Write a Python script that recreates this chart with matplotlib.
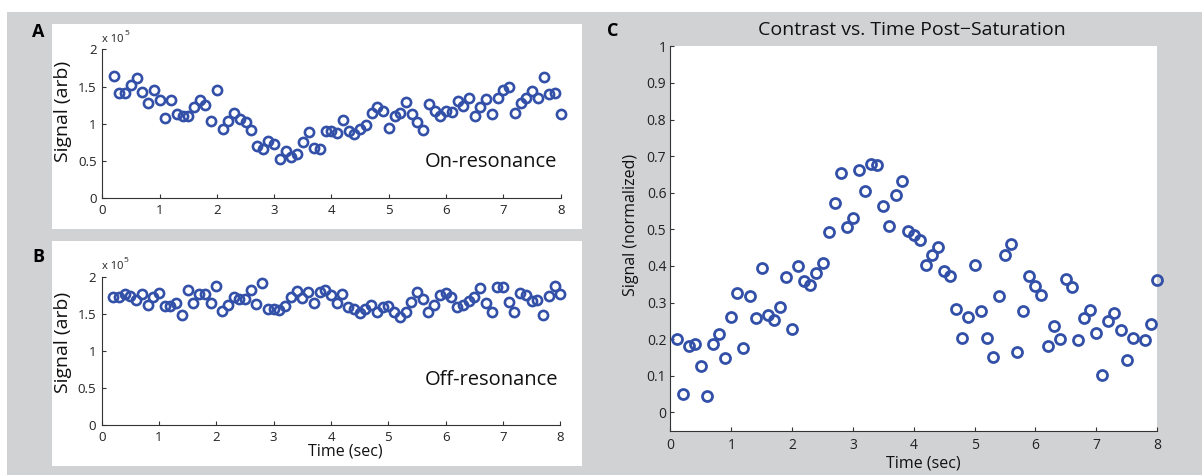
import numpy as np
import matplotlib
matplotlib.use('Agg')
import matplotlib.pyplot as plt
from matplotlib.patches import Rectangle

plt.rcParams['font.family'] = ['Open Sans', 'DejaVu Sans']

# sample times (sec)
t_ab = [0.2, 0.3, 0.4, 0.5, 0.6, 0.7, 0.8, 0.9, 1.0, 1.1, 1.2, 1.3, 1.4, 1.5, 1.6, 1.7, 1.8, 1.9, 2.0,
        2.1, 2.2, 2.3, 2.4, 2.5, 2.6, 2.7, 2.8, 2.9, 3.0, 3.1, 3.2, 3.3, 3.4, 3.5, 3.6, 3.7, 3.8, 3.9, 4.0,
        4.1, 4.2, 4.3, 4.4, 4.5, 4.6, 4.7, 4.8, 4.9, 5.0, 5.1, 5.2, 5.3, 5.4, 5.5, 5.6, 5.7, 5.8, 5.9, 6.0,
        6.1, 6.2, 6.3, 6.4, 6.5, 6.6, 6.7, 6.8, 6.9, 7.0, 7.1, 7.2, 7.3, 7.4, 7.5, 7.6, 7.7, 7.8, 7.9, 8.0]

# raw signal, units of 1e5
on_res = [1.64, 1.41, 1.42, 1.52, 1.61, 1.43, 1.28, 1.46, 1.32, 1.08, 1.32, 1.13, 1.11, 1.10, 1.22, 1.32, 1.25, 1.04, 1.45,
          0.93, 1.04, 1.14, 1.07, 1.02, 0.92, 0.70, 0.66, 0.77, 0.73, 0.53, 0.64, 0.55, 0.59, 0.75, 0.89, 0.67, 0.66, 0.91, 0.90,
          0.87, 1.05, 0.90, 0.86, 0.93, 0.98, 1.15, 1.22, 1.17, 0.95, 1.10, 1.15, 1.29, 1.13, 1.02, 0.92, 1.27, 1.17, 1.10, 1.17,
          1.16, 1.31, 1.24, 1.35, 1.10, 1.22, 1.33, 1.13, 1.34, 1.46, 1.49, 1.14, 1.28, 1.35, 1.44, 1.34, 1.63, 1.40, 1.41, 1.13]

off_res = [1.73, 1.73, 1.76, 1.74, 1.68, 1.76, 1.62, 1.72, 1.78, 1.60, 1.60, 1.65, 1.49, 1.82, 1.65, 1.77, 1.77, 1.64, 1.87,
           1.54, 1.62, 1.73, 1.70, 1.70, 1.82, 1.63, 1.92, 1.56, 1.56, 1.55, 1.60, 1.73, 1.81, 1.71, 1.80, 1.65, 1.79, 1.82, 1.75,
           1.64, 1.76, 1.59, 1.56, 1.51, 1.56, 1.62, 1.52, 1.59, 1.60, 1.52, 1.45, 1.52, 1.66, 1.79, 1.70, 1.52, 1.62, 1.75, 1.78,
           1.72, 1.59, 1.62, 1.67, 1.72, 1.85, 1.65, 1.52, 1.86, 1.86, 1.66, 1.52, 1.78, 1.75, 1.67, 1.68, 1.48, 1.74, 1.87, 1.76]

# contrast, normalized (no sample at 7.7 s)
t_c = [0.1, 0.2, 0.3, 0.4, 0.5, 0.6, 0.7, 0.8, 0.9, 1.0, 1.1, 1.2, 1.3, 1.4, 1.5, 1.6, 1.7, 1.8, 1.9, 2.0,
       2.1, 2.2, 2.3, 2.4, 2.5, 2.6, 2.7, 2.8, 2.9, 3.0, 3.1, 3.2, 3.3, 3.4, 3.5, 3.6, 3.7, 3.8, 3.9, 4.0,
       4.1, 4.2, 4.3, 4.4, 4.5, 4.6, 4.7, 4.8, 4.9, 5.0, 5.1, 5.2, 5.3, 5.4, 5.5, 5.6, 5.7, 5.8, 5.9, 6.0,
       6.1, 6.2, 6.3, 6.4, 6.5, 6.6, 6.7, 6.8, 6.9, 7.0, 7.1, 7.2, 7.3, 7.4, 7.5, 7.6, 7.8, 7.9, 8.0]
contrast = [0.200, 0.049, 0.181, 0.188, 0.126, 0.046, 0.186, 0.213, 0.149, 0.261, 0.326, 0.176, 0.318, 0.259, 0.394,
            0.265, 0.252, 0.289, 0.369, 0.227, 0.399, 0.359, 0.349, 0.380, 0.408, 0.493, 0.571, 0.654, 0.507, 0.532,
            0.661, 0.604, 0.679, 0.677, 0.565, 0.510, 0.594, 0.632, 0.496, 0.484, 0.470, 0.403, 0.429, 0.452, 0.386,
            0.373, 0.282, 0.203, 0.260, 0.402, 0.276, 0.202, 0.151, 0.319, 0.431, 0.461, 0.164, 0.276, 0.372, 0.344,
            0.320, 0.180, 0.235, 0.201, 0.365, 0.343, 0.198, 0.257, 0.279, 0.216, 0.102, 0.249, 0.271, 0.225, 0.143,
            0.202, 0.198, 0.242, 0.362]

W, H = 1202, 475
blue = '#3350a8'
gray = '#d1d2d4'
axcol = '#333333'

fig = plt.figure(figsize=(W / 100, H / 100), dpi=100)
fig.patch.set_facecolor('white')


def px(x, y):
    # pixel position -> figure fraction
    return x / W, 1 - y / H


def box(x0, y0, x1, y1, color):
    fx, fy = px(x0, y1)
    fig.patches.append(Rectangle((fx, fy), (x1 - x0) / W, (y1 - y0) / H, transform=fig.transFigure,
                                 facecolor=color, edgecolor='none', zorder=-10))


def make_axes(x0, y0, x1, y1):
    fx, fy = px(x0, y1)
    ax = fig.add_axes([fx, fy, (x1 - x0) / W, (y1 - y0) / H])
    ax.set_facecolor('white')
    for s in ['top', 'right']:
        ax.spines[s].set_visible(False)
    for s in ['left', 'bottom']:
        ax.spines[s].set_color(axcol)
        ax.spines[s].set_linewidth(0.8)
    ax.tick_params(direction='in', length=3, width=0.8, color=axcol, labelcolor='#222222')
    return ax


# background panels
box(7, 12, W, H, gray)
box(52, 24, 582, 229, 'white')
box(52, 241, 582, 466, 'white')

# A / B: on- and off-resonance
axA = make_axes(102.3, 49.3, 560.7, 198.3)
axA.plot(t_ab, on_res, 'o', mfc='none', mec=blue, ms=6.6, mew=1.9, clip_on=False)
axB = make_axes(101.7, 276.7, 560.3, 425.0)
axB.plot(t_ab, off_res, 'o', mfc='none', mec=blue, ms=6.6, mew=1.9, clip_on=False)

for ax, txt in [(axA, 'On-resonance'), (axB, 'Off-resonance')]:
    ax.set_xlim(0, 8)
    ax.set_ylim(0, 2)
    ax.set_xticks(range(9))
    ax.set_yticks([0, 0.5, 1, 1.5, 2])
    ax.set_yticklabels(['0', '0.5', '1', '1.5', '2'])
    ax.tick_params(labelsize=9.5, pad=4)
    ax.tick_params(axis='x', pad=4)
    ax.text(5.63, 0.42 if ax is axA else 0.54, txt, fontsize=14.5, ha='left', va='baseline', color='#111111')
    ax.annotate('x 10', xy=(0, 1), xycoords='axes fraction', xytext=(0, 7), textcoords='offset points',
                fontsize=8, ha='left', va='center', color='#222222')
    ax.annotate('5', xy=(0, 1), xycoords='axes fraction', xytext=(16, 11.5), textcoords='offset points',
                fontsize=6, ha='left', va='center', color='#222222')

# C: contrast
axC = make_axes(670.5, 46.3, 1157.0, 430.7)
axC.plot(t_c, contrast, 'o', mfc='none', mec=blue, ms=7.2, mew=2.0, clip_on=False)
axC.set_xlim(0, 8)
axC.set_ylim(-0.05, 1)
axC.set_xticks(range(9))
yt = np.round(np.arange(0, 1.01, 0.1), 1)
axC.set_yticks(yt)
axC.set_yticklabels(['0'] + ['%.1f' % v for v in yt[1:-1]] + ['1'])
axC.tick_params(labelsize=10)
axC.tick_params(axis='y', pad=3)
axC.tick_params(axis='x', pad=5)

# labels and titles
fig.text(*px(63, 111), 'Signal (arb)', rotation=90, ha='center', va='center', fontsize=14, color='#111111')
fig.text(*px(63, 342), 'Signal (arb)', rotation=90, ha='center', va='center', fontsize=14, color='#111111')
fig.text(*px(345, 451), 'Time (sec)', ha='center', va='center', fontsize=11.5, color='#111111')
fig.text(*px(631, 225), 'Signal (normalized)', rotation=90, ha='center', va='center', fontsize=11.5, color='#111111')
fig.text(*px(923, 463), 'Time (sec)', ha='center', va='center', fontsize=11.5, color='#111111')
fig.text(*px(912, 30), 'Contrast vs. Time Post\u2212Saturation', ha='center', va='center', fontsize=14, color='#111111')

fig.text(*px(38, 32), 'A', ha='center', va='center', fontsize=13, fontweight='bold', color='black')
fig.text(*px(38, 257), 'B', ha='center', va='center', fontsize=13, fontweight='bold', color='black')
fig.text(*px(613, 31), 'C', ha='center', va='center', fontsize=13, fontweight='bold', color='black')

fig.savefig('out.png', dpi=100, facecolor=fig.get_facecolor())
